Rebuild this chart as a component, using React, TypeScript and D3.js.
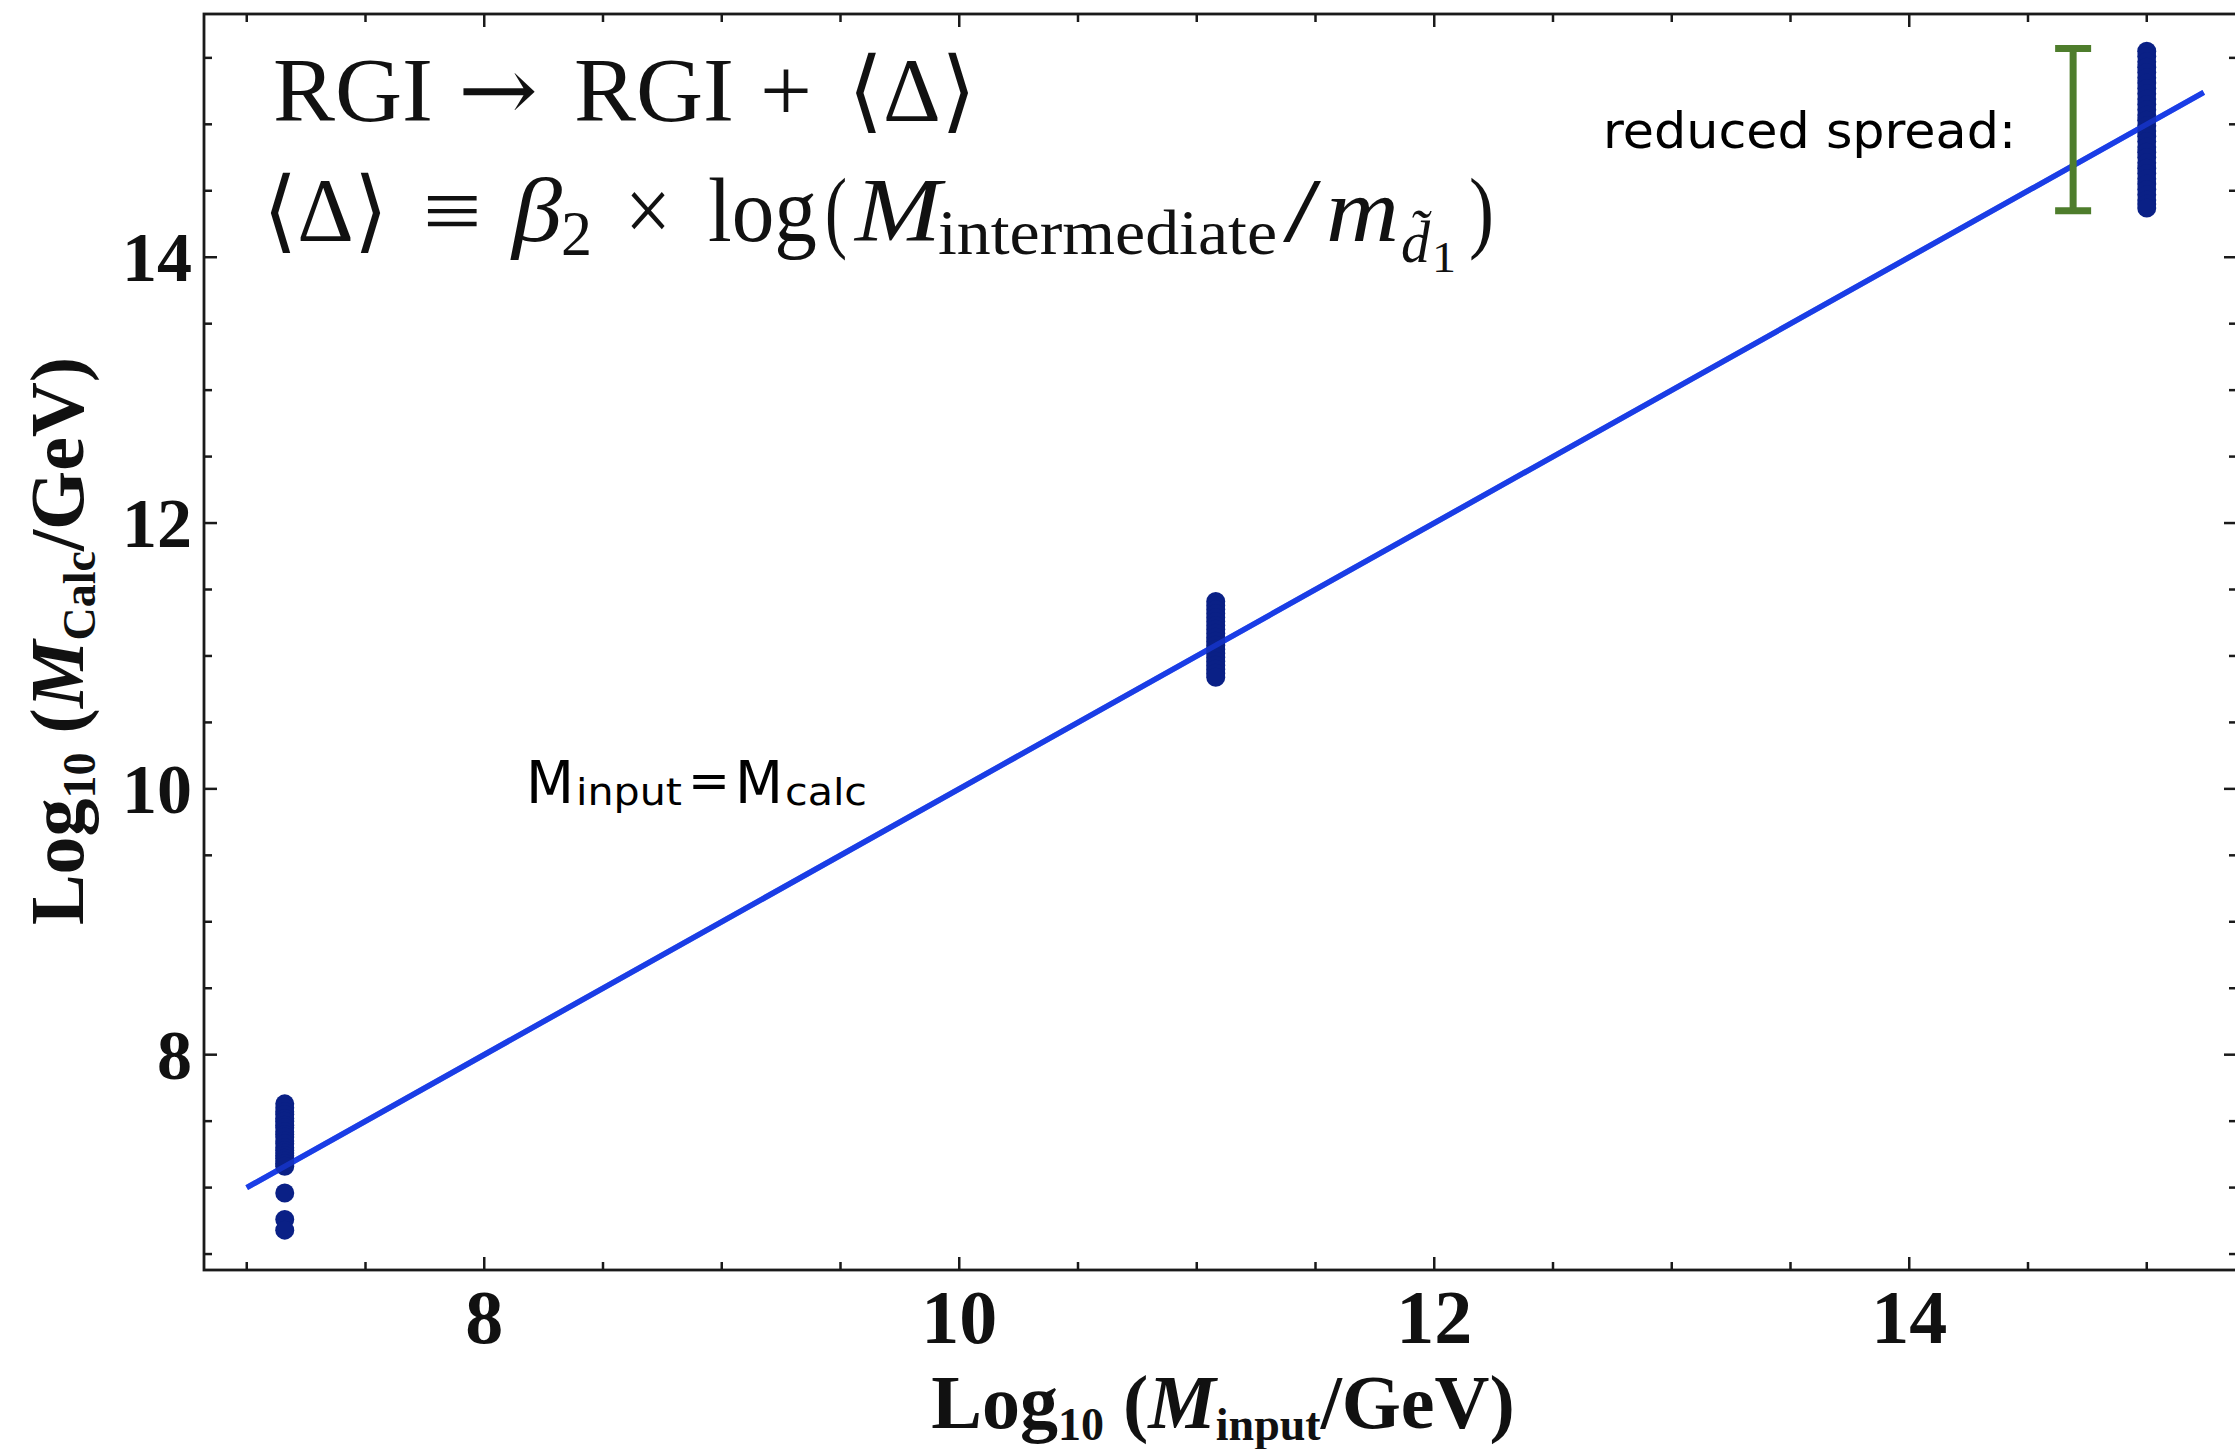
import React from 'react';
import * as d3 from 'd3';

const W = 2235;
const H = 1449;

// axis domains (Log10 of mass in GeV)
const xDomain = [6.82, 15.38];
const yDomain = [6.38, 15.83];

// labelled major ticks
const xMajorTicks = [8, 10, 12, 14];
const yMajorTicks = [8, 10, 12, 14];
const xTickLabels = ['8', '10', '12', '14'];
const yTickLabels = ['8', '10', '12', '14'];

// M_input = M_calc reference line
const refLineX = [7.0, 15.24];
const refLineY = [7.0, 15.24];

// scatter clusters: input mass, calculated masses
const cluster1X = 7.16;
const cluster1Y = [7.63, 7.6, 7.57, 7.55, 7.52, 7.5, 7.47, 7.45, 7.42, 7.4, 7.38, 7.35, 7.33, 7.3, 7.28, 7.26, 7.24, 7.22, 7.2, 7.18, 7.16, 6.96, 6.76, 6.68];
const cluster2X = 11.08;
const cluster2Y = [11.41, 11.38, 11.35, 11.32, 11.29, 11.26, 11.23, 11.2, 11.17, 11.14, 11.11, 11.08, 11.05, 11.02, 10.99, 10.96, 10.93, 10.9, 10.87, 10.84];
const cluster3X = 15.0;
const cluster3Y = [15.55, 15.51, 15.47, 15.43, 15.39, 15.35, 15.31, 15.27, 15.23, 15.19, 15.15, 15.11, 15.07, 15.03, 14.99, 14.95, 14.91, 14.87, 14.83, 14.79, 14.75, 14.71, 14.67, 14.63, 14.59, 14.55, 14.51, 14.47, 14.43, 14.4, 14.37];

// "reduced spread" bracket
const spreadX = 14.69;
const spreadY = [14.35, 15.57];

const PLOT = { left: 204, right: 2237, top: 14, bottom: 1270 };

export default function App() {
  const x = d3.scaleLinear().domain(xDomain).range([PLOT.left, PLOT.right]);
  const y = d3.scaleLinear().domain(yDomain).range([PLOT.bottom, PLOT.top]);

  const xAllTicks = d3.range(7, 15.01, 0.5);
  const yAllTicks = d3.range(6.5, 15.51, 0.5);
  const isMajor = (v: number, arr: number[]) => arr.some((a) => Math.abs(a - v) < 1e-9);
  const MAJ = 13;
  const MIN = 8;

  const line = d3
    .line<number>()
    .x((_, i) => x(refLineX[i]))
    .y((_, i) => y(refLineY[i]));

  const clusters = [
    { cx: cluster1X, ys: cluster1Y },
    { cx: cluster2X, ys: cluster2Y },
    { cx: cluster3X, ys: cluster3Y },
  ];

  const frameColor = '#1a1a1a';
  const serif = "'Liberation Serif', 'Times New Roman', serif";
  const mathFallback = "'Liberation Serif', 'DejaVu Serif', 'DejaVu Sans', serif";
  const sans = "'DejaVu Sans', 'Open Sans', sans-serif";
  const ink = '#111';
  const sx = x(spreadX);
  const capW = 36;

  return (
    <svg
      width={W}
      height={H}
      viewBox={`0 0 ${W} ${H}`}
      style={{ position: 'absolute', left: 0, top: 0, background: '#fff' }}
    >
      <rect x={0} y={0} width={W} height={H} fill="#fff" />

      {/* ticks */}
      <g stroke={frameColor} strokeWidth={2.5}>
        {xAllTicks.map((v) => {
          const len = isMajor(v, xMajorTicks) ? MAJ : MIN;
          return (
            <g key={'xt' + v}>
              <line x1={x(v)} x2={x(v)} y1={PLOT.bottom} y2={PLOT.bottom - len} />
              <line x1={x(v)} x2={x(v)} y1={PLOT.top} y2={PLOT.top + len} />
            </g>
          );
        })}
        {yAllTicks.map((v) => {
          const len = isMajor(v, yMajorTicks) ? MAJ : MIN;
          return (
            <g key={'yt' + v}>
              <line x1={PLOT.left} x2={PLOT.left + len} y1={y(v)} y2={y(v)} />
              <line x1={PLOT.right} x2={PLOT.right - len} y1={y(v)} y2={y(v)} />
            </g>
          );
        })}
      </g>

      {/* frame */}
      <rect
        x={PLOT.left}
        y={PLOT.top}
        width={PLOT.right - PLOT.left}
        height={PLOT.bottom - PLOT.top}
        fill="none"
        stroke={frameColor}
        strokeWidth={2.8}
      />

      {/* tick labels */}
      <g fontFamily={serif} fontWeight="bold" fill={ink}>
        {xMajorTicks.map((v, i) => (
          <text key={'xl' + v} x={x(v)} y={1343} fontSize={76} textAnchor="middle">
            {xTickLabels[i]}
          </text>
        ))}
        {yMajorTicks.map((v, i) => (
          <text key={'yl' + v} x={192} y={y(v) + 24} fontSize={70} textAnchor="end">
            {yTickLabels[i]}
          </text>
        ))}
      </g>

      {/* axis titles */}
      <text x={1223} y={1428} fontFamily={serif} fontWeight="bold" fontSize={76} fill={ink} textAnchor="middle">
        <tspan>Log</tspan>
        <tspan fontSize={46} dy={12}>10</tspan>
        <tspan dy={-12}> (</tspan>
        <tspan fontStyle="italic">M</tspan>
        <tspan fontSize={46} dy={12}>input</tspan>
        <tspan dy={-12}>/GeV)</tspan>
      </text>
      <text
        transform={`translate(83, 641) rotate(-90)`}
        fontFamily={serif}
        fontWeight="bold"
        fontSize={76}
        fill={ink}
        textAnchor="middle"
      >
        <tspan>Log</tspan>
        <tspan fontSize={46} dy={12}>10</tspan>
        <tspan dy={-12}> (</tspan>
        <tspan fontStyle="italic">M</tspan>
        <tspan fontSize={46} dy={12}>Calc</tspan>
        <tspan dy={-12}>/GeV)</tspan>
      </text>

      {/* reference line */}
      <path d={line(refLineX) || ''} fill="none" stroke="#1b3ee6" strokeWidth={5.5} />

      {/* scatter clusters */}
      <g fill="#0a2086">
        {clusters.map((c, ci) =>
          c.ys.map((v, i) => <circle key={`p${ci}-${i}`} cx={x(c.cx)} cy={y(v)} r={9.5} />)
        )}
      </g>
      {/* line shows through the point clusters */}
      <path d={line(refLineX) || ''} fill="none" stroke="#1b3ee6" strokeWidth={5.5} opacity={0.6} />

      {/* reduced spread bracket */}
      <g stroke="#4e7d2c" strokeWidth={7}>
        <line x1={sx} x2={sx} y1={y(spreadY[0])} y2={y(spreadY[1])} />
        <line x1={sx - capW / 2} x2={sx + capW / 2} y1={y(spreadY[0])} y2={y(spreadY[0])} />
        <line x1={sx - capW / 2} x2={sx + capW / 2} y1={y(spreadY[1])} y2={y(spreadY[1])} />
      </g>
      <text x={1603} y={148} fontFamily={sans} fontSize={50} fill="#000" textLength={413} lengthAdjust="spacingAndGlyphs">
        reduced spread:
      </text>

      {/* M_input = M_calc label */}
      <g fontFamily={sans} fill="#000">
        <text x={526} y={803} fontSize={58} textLength={48} lengthAdjust="spacingAndGlyphs">M</text>
        <text x={576} y={805} fontSize={38} textLength={106} lengthAdjust="spacingAndGlyphs">input</text>
        <text x={688} y={798} fontSize={50} textLength={42} lengthAdjust="spacingAndGlyphs">=</text>
        <text x={735} y={803} fontSize={58} textLength={48} lengthAdjust="spacingAndGlyphs">M</text>
        <text x={785} y={805} fontSize={38} textLength={82} lengthAdjust="spacingAndGlyphs">calc</text>
      </g>

      {/* formula line 1: RGI -> RGI + <Delta> */}
      <g fontFamily={mathFallback} fill={ink} fontSize={90}>
        <text x={273} y={121} textLength={160} lengthAdjust="spacingAndGlyphs">RGI</text>
        <text x={458} y={121} fontFamily="'DejaVu Serif', 'DejaVu Sans', serif" fontWeight={300} textLength={80} lengthAdjust="spacingAndGlyphs">→</text>
        <text x={574} y={121} textLength={160} lengthAdjust="spacingAndGlyphs">RGI</text>
        <text x={760} y={121} textLength={52} lengthAdjust="spacingAndGlyphs">+</text>
        <text x={848} y={121} textLength={128} lengthAdjust="spacingAndGlyphs">⟨Δ⟩</text>
      </g>

      {/* formula line 2 */}
      <g fontFamily={mathFallback} fill={ink} fontSize={90}>
        <text x={263} y={241} textLength={125} lengthAdjust="spacingAndGlyphs">⟨Δ⟩</text>
        <text x={423} y={241} textLength={59} lengthAdjust="spacingAndGlyphs">≡</text>
        <text x={512} y={241} fontStyle="italic" textLength={50} lengthAdjust="spacingAndGlyphs">β</text>
        <text x={561} y={255} fontSize={63} textLength={31} lengthAdjust="spacingAndGlyphs">2</text>
        <text x={625} y={241} textLength={46} lengthAdjust="spacingAndGlyphs">×</text>
        <text x={708} y={241} textLength={109} lengthAdjust="spacingAndGlyphs">log</text>
        <text x={825} y={241} textLength={22} lengthAdjust="spacingAndGlyphs">(</text>
        <text x={855} y={241} fontStyle="italic" textLength={86} lengthAdjust="spacingAndGlyphs">M</text>
        <text x={938} y={254} fontSize={63} textLength={339} lengthAdjust="spacingAndGlyphs">intermediate</text>
        <text x={1283} y={241} textLength={38} lengthAdjust="spacingAndGlyphs">/</text>
        <text x={1326} y={241} fontStyle="italic" textLength={73} lengthAdjust="spacingAndGlyphs">m</text>
        <text x={1401} y={262} fontSize={60} fontStyle="italic" textLength={29} lengthAdjust="spacingAndGlyphs">d̃</text>
        <text x={1432} y={272} fontSize={44} textLength={24} lengthAdjust="spacingAndGlyphs">1</text>
        <text x={1469} y={241} textLength={25} lengthAdjust="spacingAndGlyphs">)</text>
      </g>
    </svg>
  );
}
